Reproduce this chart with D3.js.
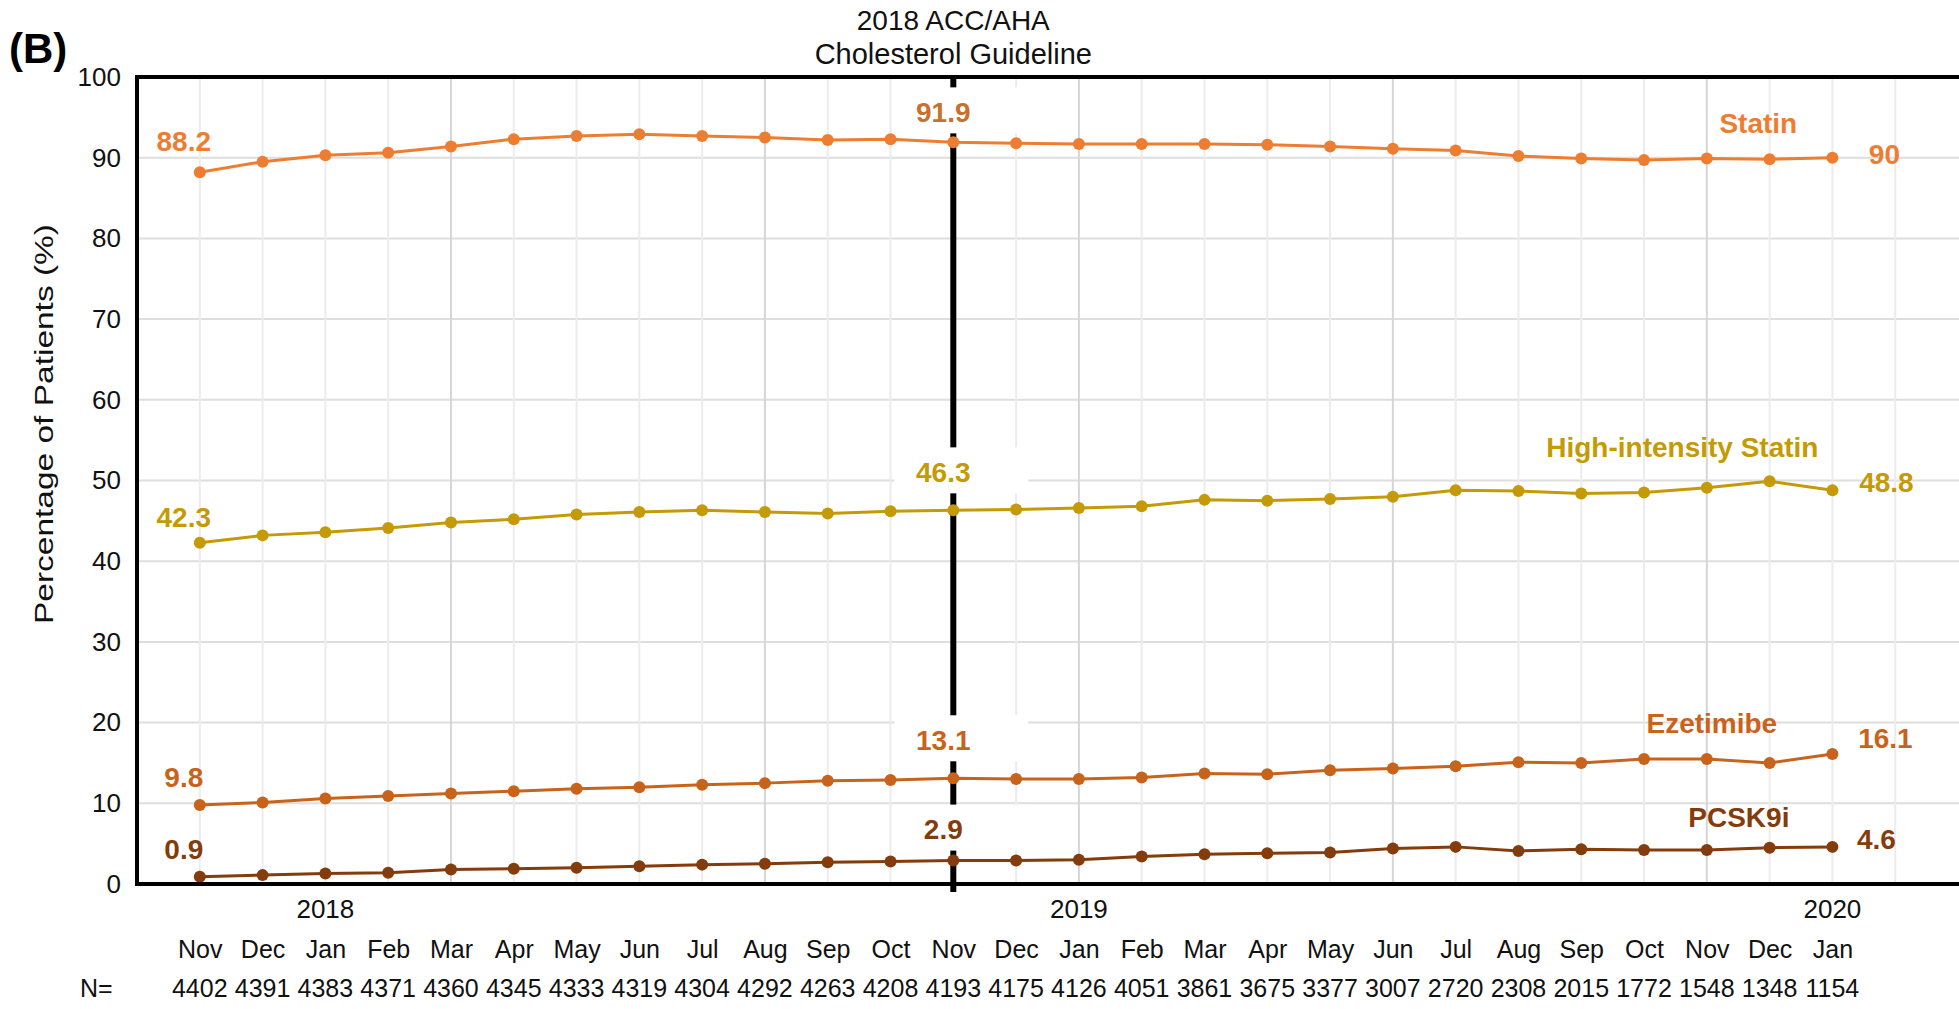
<!DOCTYPE html>
<html><head><meta charset="utf-8">
<script src="https://cdn.jsdelivr.net/npm/d3@7"></script>
<style>
body{margin:0;background:#fff;}
svg{display:block;}
text{font-family:"Liberation Sans",Arial,Helvetica,sans-serif;}
</style>
</head><body>
<svg id="chart" width="1959" height="1009"></svg>
<script>
// ---------------- data ----------------
const months = ["Nov","Dec","Jan","Feb","Mar","Apr","May","Jun","Jul","Aug","Sep","Oct","Nov","Dec","Jan","Feb","Mar","Apr","May","Jun","Jul","Aug","Sep","Oct","Nov","Dec","Jan"];
const sampleN = [4402,4391,4383,4371,4360,4345,4333,4319,4304,4292,4263,4208,4193,4175,4126,4051,3861,3675,3377,3007,2720,2308,2015,1772,1548,1348,1154];
const yearLabels = ["2018","2019","2020"];
const yearIndex = [2,14,26];
const guidelineIndex = 12;
const yTicks = [0,10,20,30,40,50,60,70,80,90,100];

const statin        = [88.2,89.5,90.3,90.6,91.4,92.3,92.7,92.9,92.7,92.5,92.2,92.3,91.9,91.8,91.7,91.7,91.7,91.6,91.4,91.1,90.9,90.2,89.9,89.7,89.9,89.8,90.0];
const highIntensity = [42.3,43.2,43.6,44.1,44.8,45.2,45.8,46.1,46.3,46.1,45.9,46.2,46.3,46.4,46.6,46.8,47.6,47.5,47.7,48.0,48.8,48.7,48.4,48.5,49.1,49.9,48.8];
const ezetimibe     = [9.8,10.1,10.6,10.9,11.2,11.5,11.8,12.0,12.3,12.5,12.8,12.9,13.1,13.0,13.0,13.2,13.7,13.6,14.1,14.3,14.6,15.1,15.0,15.5,15.5,15.0,16.1];
const pcsk9i        = [0.9,1.1,1.3,1.4,1.8,1.9,2.0,2.2,2.4,2.5,2.7,2.8,2.9,2.9,3.0,3.4,3.7,3.8,3.9,4.4,4.6,4.1,4.3,4.2,4.2,4.5,4.6];

const seriesNames = ["Statin","High-intensity Statin","Ezetimibe","PCSK9i"];
const startLabels = ["88.2","42.3","9.8","0.9"];
const guideLabels = ["91.9","46.3","13.1","2.9"];
const endLabels   = ["90","48.8","16.1","4.6"];
// name anchors in data units (month index, percent)
const nameAnchorIdx = [24.82,23.61,24.08,24.51];
const nameAnchorVal = [94.2,54.15,19.95,8.18];

// ---------------- styling ----------------
const colors = ["#ED7D31","#C49A06","#C8631C","#843C0C"];
const guideColors = ["#C8702E","#C49A06","#C8631C","#843C0C"];
const startDy = [-31,-25,-27,-27];
const guideDy = [-30,-38,-38,-31];
const endDx = [52,54,53,44];
const endDy = [-3,-8,-16,-7];

const svg = d3.select("#chart");
const W = 1959;
const x = d3.scaleLinear().domain([-1, 28]).range([137, 1958]);
const y = d3.scaleLinear().domain([0, 100]).range([884, 77]);
const xL = x(-1), xR = W;

const allSeries = [statin, highIntensity, ezetimibe, pcsk9i];
const idx = d3.range(months.length);

// gridlines
const grid = svg.append("g");
grid.selectAll("line.h").data(yTicks.filter(t=>t>0 && t<100)).join("line")
  .attr("x1", xL).attr("x2", xR).attr("y1", d=>y(d)).attr("y2", d=>y(d))
  .attr("stroke", "#dedede").attr("stroke-width", 2);
grid.selectAll("line.v").data(d3.range(0, 28)).join("line")
  .attr("x1", d=>x(d)).attr("x2", d=>x(d)).attr("y1", y(100)).attr("y2", y(0))
  .attr("stroke", d => (d % 5 === 4) ? "#d6d6d6" : "#ececec").attr("stroke-width", 2);

// guideline vertical line
svg.append("line")
  .attr("x1", x(guidelineIndex)).attr("x2", x(guidelineIndex))
  .attr("y1", y(100)).attr("y2", y(0) + 8)
  .attr("stroke", "#000").attr("stroke-width", 6);

// white boxes behind guideline labels
allSeries.forEach((s, k) => {
  const cy = y(s[guidelineIndex]) + guideDy[k];
  svg.append("rect")
    .attr("x", x(guidelineIndex) - 59).attr("y", cy - 25)
    .attr("width", 134).attr("height", 46)
    .attr("fill", "#fff");
});

// series lines and points
const line = d3.line().x((d,i)=>x(i)).y(d=>y(d));
allSeries.forEach((s, k) => {
  svg.append("path").datum(s).attr("d", line)
    .attr("fill", "none").attr("stroke", colors[k]).attr("stroke-width", 3);
  svg.append("g").selectAll("circle").data(s).join("circle")
    .attr("cx", (d,i)=>x(i)).attr("cy", d=>y(d)).attr("r", 6)
    .attr("fill", colors[k]);
});

// value labels
allSeries.forEach((s, k) => {
  svg.append("text").text(startLabels[k])
    .attr("x", x(0) - 16).attr("y", y(s[0]) + startDy[k])
    .attr("text-anchor", "middle").attr("dominant-baseline", "central")
    .attr("font-size", 28).attr("font-weight", "bold").attr("fill", colors[k]);
  svg.append("text").text(guideLabels[k])
    .attr("x", x(guidelineIndex) - 10).attr("y", y(s[guidelineIndex]) + guideDy[k])
    .attr("text-anchor", "middle").attr("dominant-baseline", "central")
    .attr("font-size", 28).attr("font-weight", "bold").attr("fill", guideColors[k]);
  const last = s.length - 1;
  svg.append("text").text(endLabels[k])
    .attr("x", x(last) + endDx[k]).attr("y", y(s[last]) + endDy[k])
    .attr("text-anchor", "middle").attr("dominant-baseline", "central")
    .attr("font-size", 28).attr("font-weight", "bold").attr("fill", colors[k]);
  svg.append("text").text(seriesNames[k])
    .attr("x", x(nameAnchorIdx[k])).attr("y", y(nameAnchorVal[k]))
    .attr("text-anchor", "middle").attr("dominant-baseline", "central")
    .attr("font-size", 28).attr("font-weight", "bold").attr("fill", colors[k]);
});

// frame lines
svg.append("line").attr("x1", xL).attr("x2", xR).attr("y1", y(100)).attr("y2", y(100))
  .attr("stroke", "#000").attr("stroke-width", 4);
svg.append("line").attr("x1", xL).attr("x2", xR).attr("y1", y(0)).attr("y2", y(0))
  .attr("stroke", "#000").attr("stroke-width", 4);
svg.append("line").attr("x1", xL).attr("x2", xL).attr("y1", y(100)-2).attr("y2", y(0)+2)
  .attr("stroke", "#000").attr("stroke-width", 4);

// y axis (labels only, via d3 axis)
const yAxis = svg.append("g").attr("transform", `translate(${xL - 4},0)`)
  .call(d3.axisLeft(y).tickValues(yTicks).tickSize(0).tickPadding(12));
yAxis.select(".domain").remove();
yAxis.selectAll("text").attr("font-size", 26).attr("fill", "#111")
  .style("font-family", '"Liberation Sans",Arial,sans-serif');

// x axis: months, years, N
const xAxis = svg.append("g").attr("transform", `translate(0,${y(0)})`)
  .call(d3.axisBottom(x).tickValues(idx).tickFormat(i=>months[i]).tickSize(0).tickPadding(56));
xAxis.select(".domain").remove();
xAxis.selectAll("text").attr("font-size", 25).attr("fill", "#111")
  .style("font-family", '"Liberation Sans",Arial,sans-serif');

svg.append("g").selectAll("text").data(yearLabels).join("text")
  .attr("x", (d,i)=>x(yearIndex[i])).attr("y", 918)
  .attr("text-anchor", "middle").attr("font-size", 26).attr("fill", "#111").text(d=>d);

svg.append("g").selectAll("text").data(sampleN).join("text")
  .attr("x", (d,i)=>x(i)).attr("y", 997)
  .attr("text-anchor", "middle").attr("font-size", 25).attr("fill", "#111").text(d=>d);
svg.append("text").attr("x", 80).attr("y", 997).attr("font-size", 25).attr("fill", "#111").text("N=");

// y title
svg.append("text")
  .attr("transform", `translate(53,424) rotate(-90)`)
  .attr("text-anchor", "middle").attr("font-size", 26).attr("fill", "#111")
  .attr("textLength", 400).attr("lengthAdjust", "spacingAndGlyphs")
  .text("Percentage of Patients (%)");

// title
svg.append("text").attr("x", x(guidelineIndex)).attr("y", 30)
  .attr("text-anchor", "middle").attr("font-size", 28).attr("fill", "#111").text("2018 ACC/AHA");
svg.append("text").attr("x", x(guidelineIndex)).attr("y", 64)
  .attr("text-anchor", "middle").attr("font-size", 29).attr("fill", "#111").text("Cholesterol Guideline");

// panel letter
svg.append("text").attr("x", 9).attr("y", 63)
  .attr("font-size", 42).attr("font-weight", "bold").attr("fill", "#000").text("(B)");
</script>
</body></html>
